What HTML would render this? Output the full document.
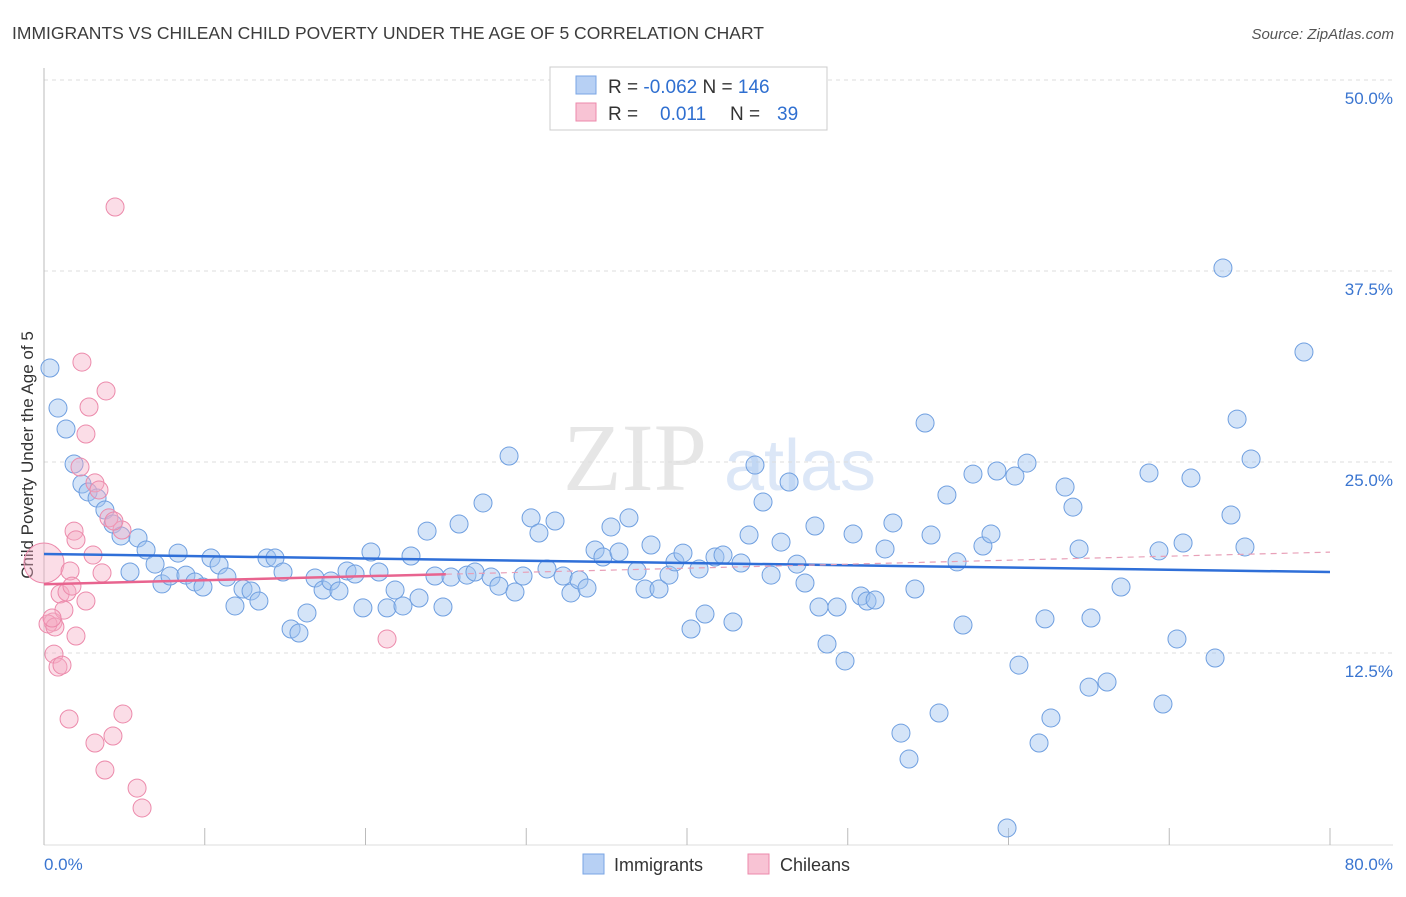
<!DOCTYPE html>
<html><head><meta charset="utf-8"><style>
body{margin:0;background:#fff;font-family:"Liberation Sans",sans-serif;}
</style></head><body>
<svg width="1406" height="892" xmlns="http://www.w3.org/2000/svg" style="font-family:'Liberation Sans',sans-serif">
<text x="12" y="39" font-size="17.5" fill="#3c3c3c">IMMIGRANTS VS CHILEAN CHILD POVERTY UNDER THE AGE OF 5 CORRELATION CHART</text>
<text x="1394" y="39" font-size="15" fill="#555" font-style="italic" text-anchor="end">Source: ZipAtlas.com</text>
<g><text x="635" y="490" font-size="96" fill="#e6e6e6" font-family="Liberation Serif,serif" text-anchor="middle">ZIP</text><text x="800" y="490" font-size="72" fill="#dce7f7" text-anchor="middle">atlas</text></g>
<g id="grid"></g>
<line x1="44" y1="68" x2="44" y2="845" stroke="#bbb"/>
<line x1="44" y1="845" x2="1393" y2="845" stroke="#ddd"/>
<g id="xt"></g>
<text x="44" y="870" font-size="17" fill="#3a75d0">0.0%</text>
<text x="1393" y="870" font-size="17" fill="#3a75d0" text-anchor="end">80.0%</text>
<text transform="translate(33,455) rotate(-90)" font-size="17" fill="#333" text-anchor="middle">Child Poverty Under the Age of 5</text>
<g id="pts"></g>
<g id="trend"></g>
<g>
<rect x="550" y="67" width="277" height="63" fill="#fff" stroke="#ccc"/>
<rect x="576" y="76" width="20" height="18" fill="#b7d0f4" stroke="#7aa5e4"/>
<rect x="576" y="103" width="20" height="18" fill="#f8c3d4" stroke="#ec8aab"/>
<text x="608" y="93" font-size="19" fill="#333">R = <tspan fill="#2f6fd0">-0.062</tspan>   N = <tspan fill="#2f6fd0">146</tspan></text>
<text x="608" y="120" font-size="19" fill="#333">R =   <tspan fill="#2f6fd0" x="660">0.011</tspan><tspan x="730">N =  </tspan><tspan fill="#2f6fd0" x="777">39</tspan></text>
</g>
<g>
<rect x="583" y="854" width="21" height="20" fill="#b7d0f4" stroke="#7aa5e4"/>
<text x="614" y="871" font-size="18" fill="#333">Immigrants</text>
<rect x="748" y="854" width="21" height="20" fill="#f8c3d4" stroke="#ec8aab"/>
<text x="780" y="871" font-size="18" fill="#333">Chileans</text>
</g>
</svg>
<script>
const yTicks=[12.5,25,37.5,50];
const yTickLabels=["12.5%","25.0%","37.5%","50.0%"];
const xTicks=[0,10,20,30,40,50,60,70,80];
const blueX=[0.37,0.87,1.37,1.87,2.36,2.74,3.30,3.79,4.29,4.79,5.85,6.35,5.35,6.91,7.34,7.84,8.34,8.83,9.39,9.89,10.39,10.89,11.38,11.88,12.38,12.88,13.37,13.87,14.37,14.87,15.37,15.86,16.36,16.86,17.36,17.85,18.35,18.85,19.35,19.84,20.34,20.84,21.34,21.84,22.33,22.83,23.33,23.83,24.32,24.82,25.32,25.82,26.31,26.81,27.31,27.81,28.30,28.93,29.30,29.80,30.30,30.79,31.29,31.79,32.29,32.78,33.28,33.78,34.28,34.77,35.27,35.77,36.39,36.89,37.39,37.76,38.26,38.88,39.25,39.75,40.25,40.75,41.12,41.74,42.24,42.86,43.36,43.86,44.23,44.73,45.23,45.85,46.35,46.84,47.34,47.96,48.21,48.71,49.33,49.83,50.33,50.82,51.20,51.70,52.32,52.81,53.31,53.81,54.18,54.81,55.18,55.68,56.17,56.80,57.17,57.79,58.41,58.91,59.28,59.91,60.40,60.65,61.15,61.90,62.27,62.64,63.52,64.01,64.39,65.01,65.13,66.13,67.00,68.74,69.36,69.61,70.48,70.86,71.35,72.85,73.34,73.84,74.22,74.71,75.09,78.38];
const blueY=[31.15,28.53,27.16,24.87,23.56,23.04,22.64,21.86,20.94,20.16,20.03,19.24,17.80,18.32,17.02,17.54,19.04,17.60,17.15,16.82,18.72,18.26,17.47,15.58,16.69,16.56,15.90,18.72,18.72,17.80,14.07,13.81,15.12,17.41,16.62,17.21,16.56,17.87,17.67,15.45,19.11,17.80,15.45,16.62,15.58,18.85,16.10,20.48,17.54,15.51,17.47,20.94,17.60,17.80,22.32,17.47,16.88,25.39,16.49,17.54,21.34,20.35,18.00,21.14,17.54,16.43,17.28,16.75,19.24,18.78,20.75,19.11,21.34,17.87,16.69,19.57,16.69,17.60,18.46,19.04,14.07,18.00,15.05,18.78,18.91,14.53,18.39,20.22,24.80,22.38,17.60,19.76,23.69,18.32,17.08,20.81,15.51,13.09,15.51,11.98,20.29,16.23,15.90,15.97,19.31,21.01,7.26,5.56,16.69,27.55,20.22,8.57,22.84,18.46,14.33,24.21,19.50,20.29,24.41,1.05,24.08,11.71,24.93,6.61,14.73,8.25,23.36,22.05,19.31,10.27,14.79,10.60,16.82,24.28,19.18,9.16,13.42,19.70,23.95,12.17,37.70,21.53,27.81,19.44,25.20,32.20];
const pinkX=[4.42,2.36,3.86,2.80,2.61,2.24,3.17,3.42,4.04,4.85,4.35,1.87,1.99,3.05,0,1.62,3.61,1.00,1.43,2.61,0.56,0.25,0.68,1.24,1.99,0.62,0.87,1.12,1.56,3.17,4.29,3.79,4.91,5.79,6.10,21.34,1.74,0.50];
const pinkY=[41.69,31.54,29.65,28.60,26.83,24.67,23.63,23.17,21.34,20.55,21.14,20.48,19.90,18.91,18.39,17.87,17.74,16.36,16.49,15.90,14.53,14.40,14.20,15.31,13.61,12.43,11.58,11.71,8.18,6.61,7.07,4.84,8.51,3.66,2.36,13.42,16.88,14.79];
const blueTrend=[18.98,17.8];
const pinkTrend=[17.0,19.1];
const X=v=>44+v*16.075, Y=v=>844-v*15.28;
const NS="http://www.w3.org/2000/svg";
function mk(p,t,a){const e=document.createElementNS(NS,t);for(const k in a)e.setAttribute(k,a[k]);document.getElementById(p).appendChild(e);return e;}
yTicks.forEach((t,i)=>{
 const l=mk('grid','line',{x1:44,x2:1393,y1:Y(t),y2:Y(t),stroke:'#ddd','stroke-dasharray':'4,4'});
 
 
 const tx=mk('grid','text',{x:1393,y:Y(t)+24,'font-size':17,fill:'#3a75d0','text-anchor':'end'});
 tx.textContent=yTickLabels[i];
 
 
});
xTicks.forEach(t=>{
 const l=mk('xt','line',{x1:X(t),x2:X(t),y1:828,y2:845,stroke:'#bbb'});
 
 
});
blueX.forEach((x,i)=>{
 const c=mk('pts','circle',{cx:X(x),cy:Y(blueY[i]),r:9,fill:'rgba(160,195,240,0.45)',stroke:'#6f9fe0','stroke-width':1});
 
 
});
pinkX.forEach((x,i)=>{
 const c=mk('pts','circle',{cx:X(x),cy:Y(pinkY[i]),r:(x===0?20:9),fill:'rgba(245,170,195,0.4)',stroke:'#ec8aab','stroke-width':1});
 
 
});
const bt=mk('trend','line',{x1:X(0),x2:X(80),y1:Y(blueTrend[0]),y2:Y(blueTrend[1]),stroke:'#2f6fd8','stroke-width':2.5});


const pm=pinkTrend[0]+(pinkTrend[1]-pinkTrend[0])*25/80;
const pt=mk('trend','line',{x1:X(0),x2:X(25),y1:Y(pinkTrend[0]),y2:Y(pm),stroke:'#e8648f','stroke-width':2.5});


const pd=mk('trend','line',{x1:X(25),x2:X(80),y1:Y(pm),y2:Y(pinkTrend[1]),stroke:'#e8a0b8','stroke-width':1.2,'stroke-dasharray':'6,5'});


</script>
</body></html>
